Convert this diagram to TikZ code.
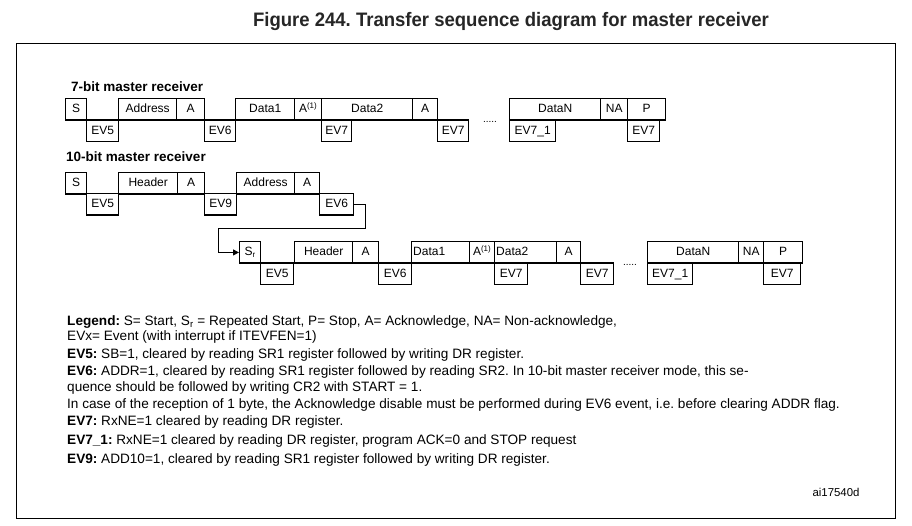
\documentclass[tikz,border=0pt]{standalone}
\usepackage{fontspec}
\setmainfont{Liberation Sans}
\newfontfamily\narrowfont[FakeStretch=0.95]{Liberation Sans}
\usetikzlibrary{arrows.meta}
\frenchspacing

\tikzset{
  fieldbox/.style={draw, line width=1.4pt, inner sep=0pt, anchor=north west,
    minimum height=21.5pt, text height=8.6pt, text depth=2.4pt, font=\fontsize{12}{14}\selectfont},
  rowlabel/.style={anchor=west, inner sep=0pt, font=\bfseries\fontsize{13.5}{16}\selectfont},
  legendline/.style={anchor=base west, inner sep=0pt, font=\fontsize{13.6}{16}\selectfont},
  dots/.style={inner sep=0pt, font=\fontsize{10}{12}\selectfont},
}

\begin{document}
\begin{tikzpicture}[x=1pt, y=-1pt]
  \useasboundingbox (0,0) rectangle (912,526);

  % Title and frame
  \node[font=\narrowfont\bfseries\fontsize{19.5}{22}\selectfont, text=black!85] (title) at (511,22)
    {Figure 244. Transfer sequence diagram for master receiver};
  \draw[line width=1pt] (16,44) rectangle (895,518);

  % 7-bit master receiver
  \node[rowlabel] (lbl7) at (71,87) {7-bit master receiver};
  \foreach \name/\xa/\xb/\txt in {s/65/86/S, addr/118/176/Address, a/176/204/A,
      da/235/294/Data1, aa/294/321/{A\textsuperscript{(1)}}, db/321/412/Data2, ab/412/437/A,
      dn/509/600/DataN, na/600/627/NA, p/627/665/P}
    \node[fieldbox, minimum width={(\xb-\xa)*1pt}] (r1\name) at (\xa,98) {\txt};
  \foreach \name/\xa/\xb/\txt in {eva/86/118/EV5, evb/204/235/EV6, evc/321/351/EV7,
      evd/437/468/EV7, eve/509/555/EV7\_1, evf/627/659/EV7}
    \node[fieldbox, minimum width={(\xb-\xa)*1pt}] (r1\name) at (\xa,119.5) {\txt};
  \node[dots] (r1dots) at (490,122) {.....};

  % 10-bit master receiver
  \node[rowlabel] (lbl10) at (66,157) {10-bit master receiver};
  \foreach \name/\xa/\xb/\txt in {s/65/86/S, hdr/118/177/Header, a/177/204/A,
      addr/236/294/Address, ab/294/319/A}
    \node[fieldbox, minimum width={(\xb-\xa)*1pt}] (r2\name) at (\xa,172) {\txt};
  \foreach \name/\xa/\xb/\txt in {eva/86/118/EV5, evb/204/236/EV9, evc/319/353/EV6}
    \node[fieldbox, minimum width={(\xb-\xa)*1pt}] (r2\name) at (\xa,193) {\txt};

  % repeated start part
  \foreach \name/\xa/\xb/\txt in {sr/239/260/{S\textsubscript{r}}, hdr/294/352/Header, a/352/378/A,
      aa/469/494/{A\textsuperscript{(1)}}, ab/556/580/A,
      dn/647/738/DataN, na/738/763/NA, p/763/802/P}
    \node[fieldbox, minimum width={(\xb-\xa)*1pt}] (r3\name) at (\xa,241) {\txt};
  \node[fieldbox, minimum width=58pt, text width=55pt, align=left] (r3da) at (411,241) {Data1};
  \node[fieldbox, minimum width=62pt, text width=59pt, align=left] (r3db) at (494,241) {Data2};
  \foreach \name/\xa/\xb/\txt in {eva/260/293/EV5, evb/378/411/EV6, evc/494/527/EV7,
      evd/580/613/EV7, eve/647/692/EV7\_1, evf/763/800/EV7}
    \node[fieldbox, minimum width={(\xb-\xa)*1pt}] (r3\name) at (\xa,262.5) {\txt};
  \node[dots] (r3dots) at (630,265) {.....};

  % link from 10-bit header to repeated start
  \coordinate (turnA) at (365,229);
  \coordinate (turnB) at (218,229);
  \draw[line width=1pt, -{Triangle[length=6pt, width=6pt]}]
    (r2evc.east) -| (turnA) -- (turnB) |- (r3sr.west);

  % Legend
  \node[legendline] (leg1) at (67,325) {\textbf{Legend:} S= Start, S\textsubscript{r} = Repeated Start, P= Stop, A= Acknowledge, NA= Non-acknowledge,};
  \node[legendline] (leg2) at (67,340) {EVx= Event (with interrupt if ITEVFEN=1)};
  \node[legendline] (leg3) at (67,358) {\textbf{EV5:} SB=1, cleared by reading SR1 register followed by writing DR register.};
  \node[legendline] (leg4) at (67,375) {\textbf{EV6:} ADDR=1, cleared by reading SR1 register followed by reading SR2. In 10-bit master receiver mode, this se-};
  \node[legendline] (leg5) at (67,391) {quence should be followed by writing CR2 with START = 1.};
  \node[legendline] (leg6) at (67,408) {In case of the reception of 1 byte, the Acknowledge disable must be performed during EV6 event, i.e. before clearing ADDR flag.};
  \node[legendline] (leg7) at (67,425) {\textbf{EV7:} RxNE=1 cleared by reading DR register.};
  \node[legendline] (leg8) at (67,444) {\textbf{EV7\_1:} RxNE=1 cleared by reading DR register, program ACK=0 and STOP request};
  \node[legendline] (leg9) at (67,463) {\textbf{EV9:} ADD10=1, cleared by reading SR1 register followed by writing DR register.};

  \node[font=\fontsize{11.4}{13}\selectfont] (ref) at (836,492) {ai17540d};
\end{tikzpicture}
\end{document}
